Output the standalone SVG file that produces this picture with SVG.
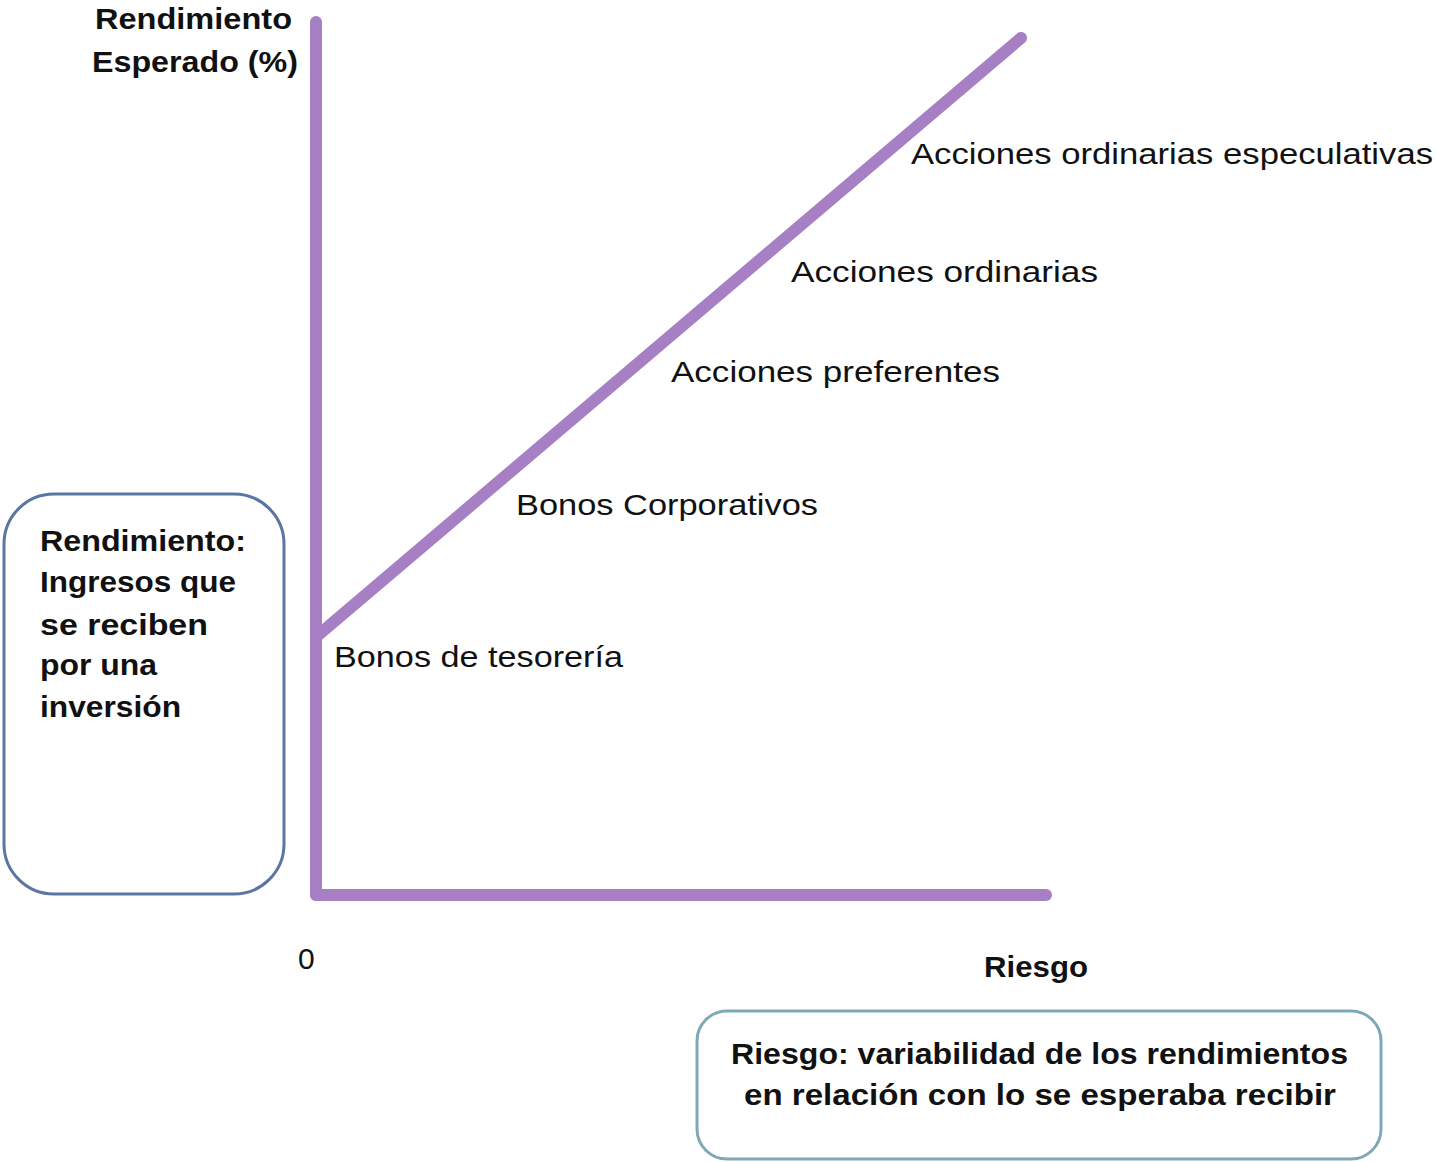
<svg xmlns="http://www.w3.org/2000/svg" width="1437" height="1162" viewBox="0 0 1437 1162">
<style>
.ax{stroke:#a67fc4;stroke-width:12;stroke-linecap:round;fill:none}
.t{font-family:"Liberation Sans",Arial,sans-serif;font-size:30px;fill:#111}
.b{font-weight:bold}
</style>
<rect width="1437" height="1162" fill="#fff"/>
<g id="connectors">
<line class="ax" x1="316" y1="22" x2="316" y2="895"/>
<line class="ax" x1="316" y1="895" x2="1046" y2="895"/>
<line class="ax" x1="316" y1="637" x2="1021" y2="38"/>
</g>
<g id="axis-y-label">
<text class="t b" x="95" y="29" textLength="197" lengthAdjust="spacingAndGlyphs">Rendimiento</text>
<text class="t b" x="92" y="72" textLength="206" lengthAdjust="spacingAndGlyphs">Esperado (%)</text>
</g>
<g id="axis-x-label">
<text class="t b" x="984" y="977" textLength="104" lengthAdjust="spacingAndGlyphs">Riesgo</text>
</g>
<g id="origin"><text class="t" x="298" y="969">0</text></g>
<g id="label-especulativas"><text class="t" x="911" y="164" textLength="522" lengthAdjust="spacingAndGlyphs">Acciones ordinarias especulativas</text></g>
<g id="label-ordinarias"><text class="t" x="791" y="282" textLength="307" lengthAdjust="spacingAndGlyphs">Acciones ordinarias</text></g>
<g id="label-preferentes"><text class="t" x="671" y="382" textLength="329" lengthAdjust="spacingAndGlyphs">Acciones preferentes</text></g>
<g id="label-corporativos"><text class="t" x="516" y="515" textLength="302" lengthAdjust="spacingAndGlyphs">Bonos Corporativos</text></g>
<g id="label-tesoreria"><text class="t" x="334" y="667" textLength="289" lengthAdjust="spacingAndGlyphs">Bonos de tesorería</text></g>
<g id="box-rendimiento">
<rect x="4" y="494" width="280" height="400" rx="50" ry="50" fill="#fff" stroke="#5b76a3" stroke-width="3"/>
<text class="t b" x="40" y="551" textLength="206" lengthAdjust="spacingAndGlyphs">Rendimiento:</text>
<text class="t b" x="40" y="592" textLength="196" lengthAdjust="spacingAndGlyphs">Ingresos que</text>
<text class="t b" x="40" y="635" textLength="168" lengthAdjust="spacingAndGlyphs">se reciben</text>
<text class="t b" x="40" y="675" textLength="117" lengthAdjust="spacingAndGlyphs">por una</text>
<text class="t b" x="40" y="717" textLength="141" lengthAdjust="spacingAndGlyphs">inversión</text>
</g>
<g id="box-riesgo">
<rect x="697" y="1011" width="684" height="148" rx="30" ry="30" fill="#fff" stroke="#7ea8b6" stroke-width="3"/>
<text class="t b" x="731" y="1064" textLength="617" lengthAdjust="spacingAndGlyphs">Riesgo: variabilidad de los rendimientos</text>
<text class="t b" x="744" y="1105" textLength="592" lengthAdjust="spacingAndGlyphs">en relación con lo se esperaba recibir</text>
</g>
</svg>
